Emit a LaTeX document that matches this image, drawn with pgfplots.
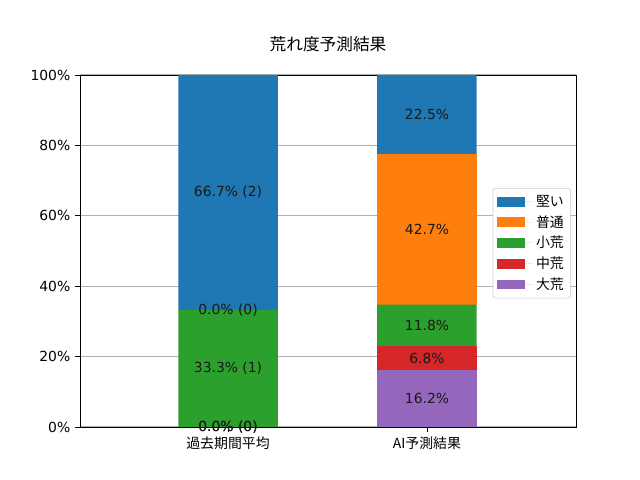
\documentclass[border=0pt]{standalone}
\usepackage{pgfplots}
\usepackage{pgfplotstable}
\pgfplotsset{compat=1.18}
\usepackage{fontspec}
\setmainfont{DejaVu Sans}
\newfontfamily\jp{Noto Sans CJK JP}
\definecolor{c0}{HTML}{1F77B4}
\definecolor{c1}{HTML}{FF7F0E}
\definecolor{c2}{HTML}{2CA02C}
\definecolor{c3}{HTML}{D62728}
\definecolor{c4}{HTML}{9467BD}
\pgfplotstableread{
x y lab
0 0.0 {0.0\%~(0)}
1 16.2 {16.2\%}
}\taikou
\pgfplotstableread{
x y lab
0 0.0 {0.0\%~(0)}
1 6.8 {6.8\%}
}\chukou
\pgfplotstableread{
x y lab
0 33.3 {33.3\%~(1)}
1 11.8 {11.8\%}
}\shoukou
\pgfplotstableread{
x y lab
0 0.0 {0.0\%~(0)}
1 42.7 {42.7\%}
}\futsuu
\pgfplotstableread{
x y lab
0 66.7 {66.7\%~(2)}
1 22.5 {22.5\%}
}\katai
\pgfplotsset{
  common/.style={
    at={(57.6pt,38.16pt)}, anchor=south west,
    scale only axis, width=357.12pt, height=253.44pt,
    xmin=-0.744, xmax=1.749, ymin=0, ymax=100,
  }
}
\begin{document}
\begin{tikzpicture}
\path[use as bounding box] (0,0) rectangle (460.8pt,345.6pt);
\begin{axis}[
  common, ybar stacked, bar width=0.5,
  xtick={0,1}, xticklabels={{\jp 過去期間平均},{\jp AI予測結果}},
  ytick={0,20,40,60,80,100},
  yticklabels={0\%,20\%,40\%,60\%,80\%,100\%},
  ymajorgrids, grid style={color=black!31, line width=0.8pt},
  axis line style={line width=0.6pt},
  tick align=outside, tick pos=left, major tick length=3.5pt,
  tick style={black, line width=0.6pt},
  title={\jp 荒れ度予測結果},
  title style={font=\fontsize{12}{14}\selectfont, at={(0.5,1)}, anchor=south, yshift=7pt},
  tick label style={font=\fontsize{10}{12}\selectfont},
  legend image code/.code={\fill[#1, sharp corners] (0pt,-3.5pt) rectangle (20pt,3.5pt); \path (0pt,0pt) -- (26pt,0pt);},
  reverse legend,
  legend cell align=left,
  legend style={at={(0.99,0.679)}, anchor=north east, draw=black!20, rounded corners=2pt,
    fill=white, font=\fontsize{10}{12}\selectfont\jp, row sep=1pt, inner sep=3pt},
]
\addplot[fill=c4, draw=none] table[x=x,y=y] {\taikou};
\addlegendentry{大荒}
\addplot[fill=c3, draw=none] table[x=x,y=y] {\chukou};
\addlegendentry{中荒}
\addplot[fill=c2, draw=none] table[x=x,y=y] {\shoukou};
\addlegendentry{小荒}
\addplot[fill=c1, draw=none] table[x=x,y=y] {\futsuu};
\addlegendentry{普通}
\addplot[fill=c0, draw=none] table[x=x,y=y] {\katai};
\addlegendentry{堅い}
\end{axis}
\begin{axis}[
  common, ybar stacked, bar width=0.5, hide axis,
  point meta=explicit symbolic,
  nodes near coords,
  every node near coord/.append style={anchor=center,
    font=\fontsize{10}{12}\selectfont, text=black!90},
]
\addplot[draw=none, fill=none] table[x=x,y=y,meta=lab] {\taikou};
\addplot[draw=none, fill=none] table[x=x,y=y,meta=lab] {\chukou};
\addplot[draw=none, fill=none] table[x=x,y=y,meta=lab] {\shoukou};
\addplot[draw=none, fill=none] table[x=x,y=y,meta=lab] {\futsuu};
\addplot[draw=none, fill=none] table[x=x,y=y,meta=lab] {\katai};
\end{axis}
\begin{axis}[
  common, hide axis,
  point meta=explicit symbolic,
  nodes near coords,
  every node near coord/.append style={anchor=center,
    font=\fontsize{10}{12}\selectfont, text=black!90},
]
\addplot[draw=none, mark=none] coordinates {(0,0) [0.0\%~(0)] (0,0) [0.0\%~(0)] (0,33.3) [0.0\%~(0)]};
\end{axis}
\end{tikzpicture}
\end{document}
